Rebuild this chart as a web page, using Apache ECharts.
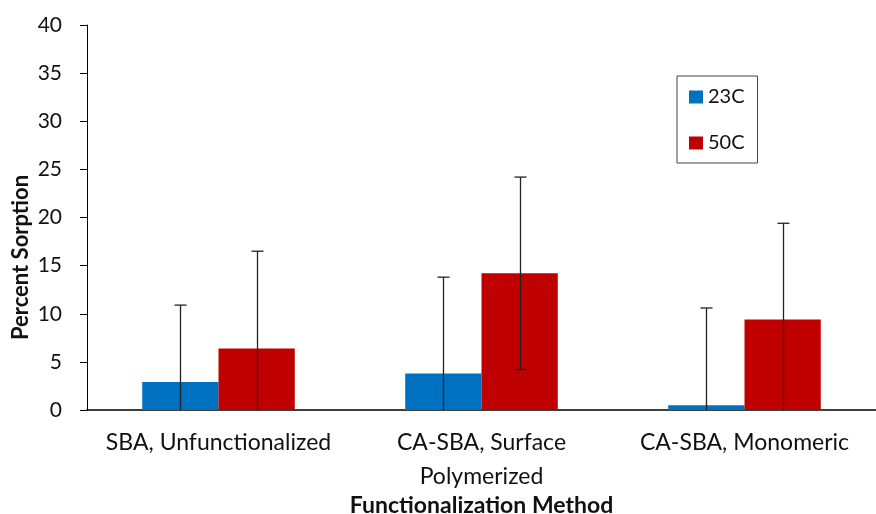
<!DOCTYPE html>
<html>
<head>
<meta charset="utf-8">
<script src="https://cdn.jsdelivr.net/npm/echarts@6/dist/echarts.min.js"></script>
<style>
html,body{margin:0;padding:0;background:#fff;}
#chart{width:876px;height:514px;}
</style>
</head>
<body>
<div id="chart"></div>
<script>
// ---- data ----
var categories = ['SBA, Unfunctionalized', 'CA-SBA, Surface\nPolymerized', 'CA-SBA, Monomeric'];
var seriesNames = ['23C', '50C'];
var values23 = [2.9, 3.8, 0.5];
var values50 = [6.4, 14.2, 9.4];
var errors23 = [8.0, 10.0, 10.1];
var errors50 = [10.1, 10.0, 10.0];
var yTicks = { min: 0, max: 40, interval: 5 };

var FONT = 'Lato';
var BAR_FRAC = 0.29;
var colors = ['#0070C0', '#C00000'];

function errData(vals, errs) {
  return vals.map(function (v, i) { return [i, v, errs[i]]; });
}

function makeErrRender(sign) {
  return function (params, api) {
    var xi = api.value(0), v = api.value(1), e = api.value(2);
    var band = api.size([1, 0])[0];
    var off = sign * band * BAR_FRAC / 2;
    var top = api.coord([xi, v + e]);
    var lowV = Math.max(0, v - e);
    var bot = api.coord([xi, lowV]);
    var x = Math.round(top[0] + off) + 0.5;
    var cap = 6;
    var style = { stroke: '#222', lineWidth: 1.3 };
    var children = [
      { type: 'line', shape: { x1: x, y1: top[1], x2: x, y2: bot[1] }, style: style },
      { type: 'line', shape: { x1: x - cap, y1: top[1], x2: x + cap, y2: top[1] }, style: style }
    ];
    if (v - e > 0) {
      children.push({ type: 'line', shape: { x1: x - cap, y1: bot[1], x2: x + cap, y2: bot[1] }, style: style });
    }
    return { type: 'group', children: children };
  };
}

var chart = echarts.init(document.getElementById('chart'));
chart.setOption({
  animation: false,
  backgroundColor: '#fff',
  textStyle: { fontFamily: FONT },
  grid: { left: 87, right: 0, top: 25, bottom: 104, containLabel: false, outerBoundsMode: 'none' },
  legend: {
    orient: 'vertical',
    left: 677, top: 76,
    data: seriesNames,
    icon: 'rect',
    itemWidth: 14, itemHeight: 13, itemGap: 26,
    padding: [11, 13, 10, 12],
    borderColor: '#444', borderWidth: 1,
    textStyle: { fontFamily: FONT, fontSize: 20, lineHeight: 20, color: '#111' }
  },
  xAxis: {
    type: 'category',
    data: categories,
    name: 'Functionalization Method',
    nameLocation: 'middle',
    nameGap: 82,
    nameMoveOverlap: false,
    nameTextStyle: { fontFamily: FONT, fontSize: 23, fontWeight: 'bold', color: '#111', lineHeight: 28 },
    axisLine: { lineStyle: { color: '#000', width: 1.5 } },
    axisTick: { show: false },
    axisLabel: { fontFamily: FONT, fontSize: 23, color: '#111', lineHeight: 34, margin: 16, interval: 0 },
    splitLine: { show: false }
  },
  yAxis: {
    type: 'value',
    min: yTicks.min, max: yTicks.max, interval: yTicks.interval,
    name: 'Percent Sorption',
    nameLocation: 'middle',
    nameGap: 55,
    nameMoveOverlap: false,
    nameTextStyle: { fontFamily: FONT, fontSize: 22, fontWeight: 'bold', color: '#111', padding: [0, 80, 0, 0] },
    axisLine: { show: true, lineStyle: { color: '#000', width: 1 } },
    axisTick: { show: true, inside: false, length: 7, lineStyle: { color: '#000' } },
    axisLabel: { fontFamily: FONT, fontSize: 21, color: '#111', margin: 25 },
    splitLine: { show: false }
  },
  series: [
    { name: seriesNames[0], type: 'bar', data: values23, barWidth: (BAR_FRAC * 100) + '%', barGap: '0%',
      itemStyle: { color: colors[0] } },
    { name: seriesNames[1], type: 'bar', data: values50, barWidth: (BAR_FRAC * 100) + '%', barGap: '0%',
      itemStyle: { color: colors[1] } },
    { name: 'err23', type: 'custom', data: errData(values23, errors23), renderItem: makeErrRender(-1), z: 10,
      encode: { x: 0, y: 1 } },
    { name: 'err50', type: 'custom', data: errData(values50, errors50), renderItem: makeErrRender(1), z: 10,
      encode: { x: 0, y: 1 } }
  ]
});
</script>
</body>
</html>
